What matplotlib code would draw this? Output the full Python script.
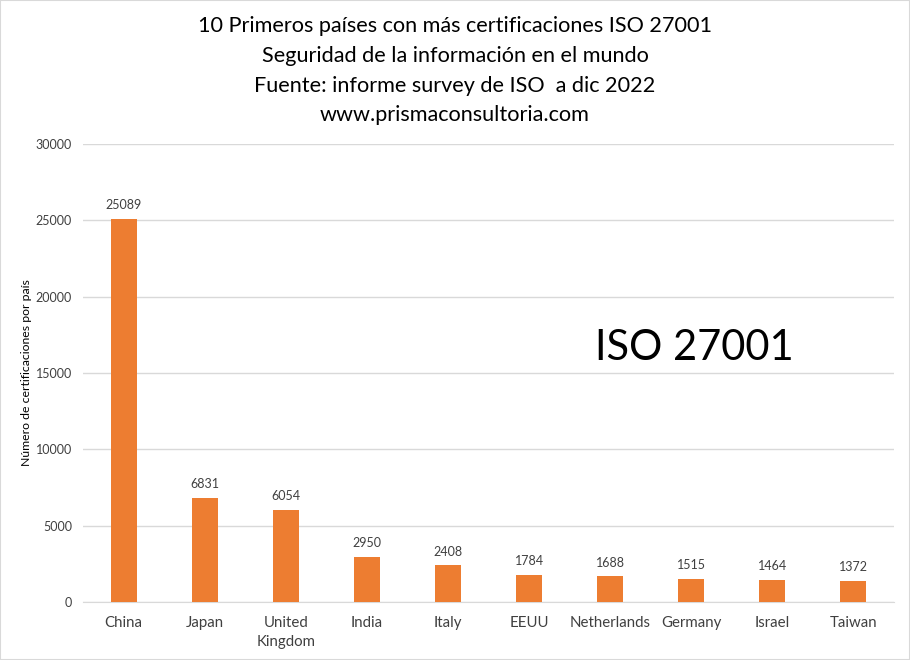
import matplotlib
matplotlib.use("Agg")
import matplotlib.pyplot as plt
from matplotlib.patches import Rectangle

countries = ["China", "Japan", "United\nKingdom", "India", "Italy", "EEUU",
             "Netherlands", "Germany", "Israel", "Taiwan"]
values = [25089, 6831, 6054, 2950, 2408, 1784, 1688, 1515, 1464, 1372]
yticks = [0, 5000, 10000, 15000, 20000, 25000, 30000]

plt.rcParams['font.family'] = ['Lato', 'DejaVu Sans']

fig = plt.figure(figsize=(9.1, 6.6), dpi=100)
ax = fig.add_axes([83/910, 1-602/660, 811/910, 458/660])

x = list(range(len(countries)))
bars = ax.bar(x, values, width=0.32, color="#ED7D31", zorder=3)
for xi, v in zip(x, values):
    ax.text(xi, v + 500, str(v), ha="center", va="bottom", fontsize=9, color="#404040")

ax.set_xlim(-0.5, len(countries) - 0.5)
ax.set_ylim(0, 30000)
ax.set_yticks(yticks)
ax.set_yticklabels([str(t) for t in yticks], fontsize=9, color="#404040")
ax.set_xticks(x)
ax.set_xticklabels(countries, fontsize=10.8, color="#404040", linespacing=1.5)
ax.tick_params(axis="x", length=0, pad=10)
ax.tick_params(axis="y", length=0, pad=8)
ax.grid(axis="y", color="#d9d9d9", linewidth=1, zorder=0)
for s in ["top", "right", "left"]:
    ax.spines[s].set_visible(False)
ax.spines["bottom"].set_color("#d9d9d9")
ax.set_ylabel("Número de certificaciones por país", fontsize=8.8, color="#000000")
ax.yaxis.set_label_coords(-0.063, 0.5)

ax.text(0.754, 0.555, "ISO 27001", transform=ax.transAxes, ha="center", va="center",
        fontsize=30, color="#000000")

title_lines = ["10 Primeros países con más certificaciones ISO 27001",
               "Seguridad de la información en el mundo",
               "Fuente: informe survey de ISO  a dic 2022",
               "www.prismaconsultoria.com"]
for i, line in enumerate(title_lines):
    fig.text(0.5, 1 - (26.5 + 29.5 * i) / 660, line, ha="center", va="center",
             fontsize=15.6, color="#000000")

fig.patches.append(Rectangle((0, 0), 1, 1, transform=fig.transFigure, fill=False,
                             edgecolor="#d9d9d9", linewidth=1.5))

fig.savefig("out.png", dpi=100)
